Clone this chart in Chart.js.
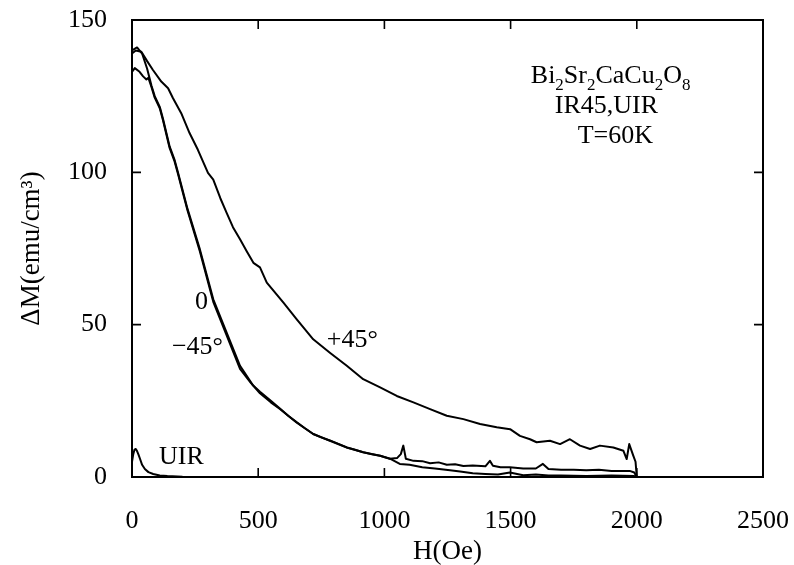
<!DOCTYPE html>
<html>
<head>
<meta charset="utf-8">
<script src="https://cdn.jsdelivr.net/npm/chart.js@4/dist/chart.umd.min.js"></script>
<style>
  html, body { margin: 0; padding: 0; background: #fff; }
  #wrap { width: 794px; height: 565px; position: relative; }
</style>
</head>
<body>
<div id="wrap"><canvas id="c" width="794" height="565"></canvas></div>
<script>
// ---------- data ----------
const xTickValues = [0, 500, 1000, 1500, 2000, 2500];
const yTickValues = [0, 50, 100, 150];

// +45 degrees
const hPlus45 = [0, 15, 37, 60, 83, 116, 143, 162, 195, 228, 261, 301, 322, 350, 375, 400, 428, 455, 481, 507, 534, 600, 652, 718, 784, 851, 916, 983, 1049, 1115, 1181, 1247, 1313, 1379, 1445, 1498, 1537, 1577, 1603, 1656, 1696, 1735, 1775, 1815, 1854, 1907, 1947, 1960, 1970, 1986, 1995, 2000];
const mPlus45 = [139, 140, 139.6, 136.5, 133.6, 129.8, 127.6, 124.4, 119.4, 112.9, 107.4, 99.8, 97.6, 91.5, 86.7, 82, 78, 74, 70.3, 68.8, 63.8, 57.2, 51.8, 45.2, 40.8, 36.5, 32.1, 29.4, 26.6, 24.5, 22.3, 20.1, 19, 17.4, 16.3, 15.7, 13.5, 12.4, 11.4, 11.9, 10.8, 12.4, 10.3, 9.2, 10.3, 9.7, 8.6, 5.9, 10.8, 7, 5, 0];

// 0 degrees
const hZero = [0, 20, 40, 60, 77, 90, 110, 123, 136, 149, 169, 182, 220, 269, 322, 375, 428, 480, 507, 550, 586, 620, 652, 685, 718, 750, 784, 820, 851, 880, 916, 950, 983, 1022, 1050, 1065, 1075, 1085, 1115, 1150, 1181, 1215, 1247, 1280, 1313, 1350, 1400, 1418, 1430, 1460, 1497, 1550, 1600, 1628, 1650, 1700, 1750, 1800, 1850, 1900, 1950, 1972, 1990, 2000];
const mZero = [140, 141, 139, 134, 128.5, 125, 121.5, 117.5, 113, 108.5, 104, 100, 88, 74.7, 58.3, 47.4, 36.5, 30, 28, 25, 22.5, 20, 18, 16, 14.1, 13, 12, 10.8, 9.7, 9, 8.1, 7.5, 7, 6, 6.2, 7.5, 10.3, 6, 5.3, 5.2, 4.5, 4.8, 4, 4.2, 3.6, 3.8, 3.5, 5.3, 3.7, 3.2, 3.2, 2.8, 2.8, 4.3, 2.6, 2.4, 2.4, 2.2, 2.4, 2, 2, 2, 1.5, 0];

// -45 degrees
const hMinus45 = [0, 11, 30, 44, 57, 65, 77, 90, 110, 123, 136, 149, 169, 182, 220, 269, 322, 375, 428, 470, 507, 550, 586, 652, 718, 784, 851, 916, 983, 1022, 1061, 1100, 1150, 1200, 1260, 1300, 1350, 1400, 1450, 1497, 1550, 1600, 1650, 1700, 1800, 1900, 1990, 2000];
const mMinus45 = [133, 134.2, 133, 131.5, 130.5, 131, 128, 124.5, 121, 117, 112.5, 108, 103.5, 99.5, 87.5, 74, 57.5, 46.5, 35.5, 31, 27.5, 24.5, 22.3, 17.9, 14.1, 11.9, 9.7, 8.1, 7, 6, 4.3, 4, 3.2, 2.8, 2.2, 1.8, 1.2, 1, 0.8, 1.5, 0.6, 0.8, 0.5, 0.5, 0.3, 0.5, 0.3, 0];

// UIR
const hUIR = [0, 5, 10, 15, 20, 25, 32, 40, 51, 65, 84, 110, 140, 200, 300];
const mUIR = [5, 7.5, 9, 9.2, 8.5, 7.5, 5.9, 4, 2.6, 1.6, 1, 0.5, 0.3, 0.1, 0];

// text labels (anchored in data coordinates)
const curveLabels = [
  { text: '0',    h: 250, m: 55 },
  { text: '\u221245\u00B0', h: 158, m: 40.3 },
  { text: '+45\u00B0', h: 772, m: 42.6 },
  { text: 'UIR',  h: 107, m: 4.3 }
];
const formulaParts = [['Bi', 0], ['2', 1], ['Sr', 0], ['2', 1], ['CaCu', 0], ['2', 1], ['O', 0], ['8', 1]];
const infoLines = [
  { text: 'IR45,UIR', h: 1675, m: 119.5 },
  { text: 'T=60K',    h: 1766, m: 109.7 }
];
const formulaAnchor = { h: 1580, m: 129.4 };

// ---------- chart ----------
const FONT = '"Liberation Serif", "Times New Roman", serif';
const pts = (xs, ys) => xs.map((v, i) => ({ x: v, y: ys[i] }));
const line = (label, data) => ({
  label, data, showLine: true, borderColor: '#000', backgroundColor: '#000',
  borderWidth: 2, pointRadius: 0, tension: 0, borderJoinStyle: 'round'
});

const framePlugin = {
  id: 'frame',
  afterDatasetsDraw(chart) {
    const { ctx, chartArea: a, scales: { x, y } } = chart;
    ctx.save();
    ctx.strokeStyle = '#000';
    ctx.lineWidth = 2;
    ctx.strokeRect(a.left, a.top, a.right - a.left, a.bottom - a.top);
    const TL = 9;
    ctx.lineWidth = 1.6;
    ctx.beginPath();
    xTickValues.forEach(v => {
      const px = x.getPixelForValue(v);
      ctx.moveTo(px, a.bottom); ctx.lineTo(px, a.bottom - TL);
      ctx.moveTo(px, a.top); ctx.lineTo(px, a.top + TL);
    });
    yTickValues.forEach(v => {
      const py = y.getPixelForValue(v);
      ctx.moveTo(a.left, py); ctx.lineTo(a.left + TL, py);
      ctx.moveTo(a.right, py); ctx.lineTo(a.right - TL, py);
    });
    ctx.stroke();

    ctx.fillStyle = '#000';
    ctx.textBaseline = 'alphabetic';
    ctx.textAlign = 'left';
    ctx.font = '26px ' + FONT;
    curveLabels.forEach(l => {
      ctx.fillText(l.text, x.getPixelForValue(l.h), y.getPixelForValue(l.m));
    });
    infoLines.forEach(l => {
      ctx.fillText(l.text, x.getPixelForValue(l.h), y.getPixelForValue(l.m));
    });
    // formula with subscripts
    let cx = x.getPixelForValue(formulaAnchor.h);
    const by = y.getPixelForValue(formulaAnchor.m);
    formulaParts.forEach(([t, sub]) => {
      ctx.font = (sub ? '17px ' : '26px ') + FONT;
      ctx.fillText(t, cx, by + (sub ? 7 : 0));
      cx += ctx.measureText(t).width;
    });
    ctx.restore();
  }
};

new Chart(document.getElementById('c'), {
  type: 'scatter',
  data: {
    datasets: [
      line('+45', pts(hPlus45, mPlus45)),
      line('0', pts(hZero, mZero)),
      line('-45', pts(hMinus45, mMinus45)),
      line('UIR', pts(hUIR, mUIR))
    ]
  },
  options: {
    responsive: false,
    animation: false,
    layout: { padding: { left: 0, right: 31, top: 20, bottom: 0 } },
    plugins: { legend: { display: false }, tooltip: { enabled: false } },
    scales: {
      x: {
        type: 'linear', min: 0, max: 2500,
        afterBuildTicks: s => { s.ticks = xTickValues.map(v => ({ value: v })); },
        afterFit: s => { s.height = 88; s.paddingLeft = 0; s.paddingRight = 0; },
        grid: { display: false, drawTicks: false },
        border: { display: false },
        ticks: { color: '#000', padding: 29, font: { family: FONT, size: 26 }, maxRotation: 0, callback: v => String(v) },
        title: { display: true, text: 'H(Oe)', color: '#000', font: { family: FONT, size: 27, lineHeight: 1 }, padding: { top: 0, bottom: 0 } }
      },
      y: {
        type: 'linear', min: 0, max: 150,
        afterBuildTicks: s => { s.ticks = yTickValues.map(v => ({ value: v })); },
        afterFit: s => { s.width = 132; s.paddingTop = 0; s.paddingBottom = 0; },
        grid: { display: false, drawTicks: false },
        border: { display: false },
        ticks: { color: '#000', padding: 25, font: { family: FONT, size: 26 }, callback: v => String(v) },
        title: { display: true, text: '\u0394M(emu/cm\u00B3)', color: '#000', font: { family: FONT, size: 27, lineHeight: 1 }, padding: { top: 18, bottom: 0 } }
      }
    }
  },
  plugins: [framePlugin]
});
</script>
</body>
</html>
